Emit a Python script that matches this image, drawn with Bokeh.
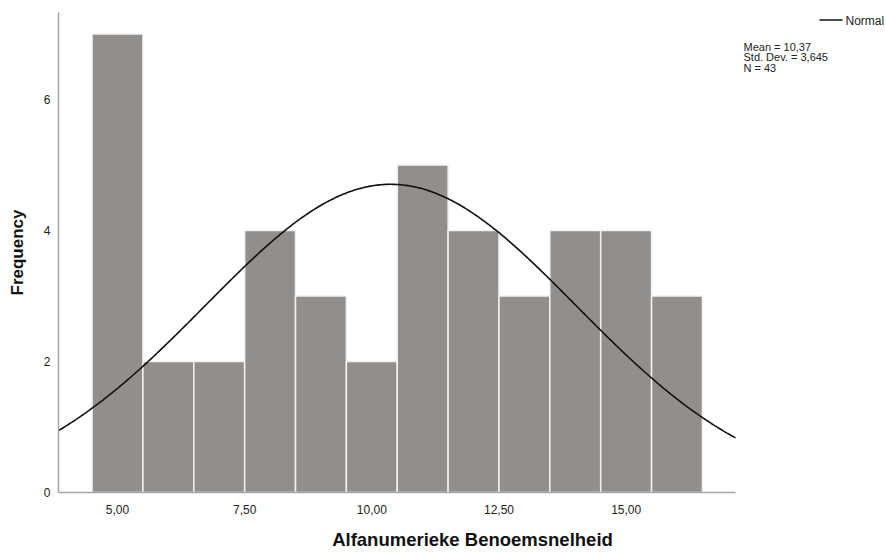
import numpy as np
from bokeh.plotting import figure
from bokeh.models import FixedTicker, Label, Arrow
from bokeh.embed import file_html
from bokeh.resources import INLINE

# Histogram of Alfanumerieke Benoemsnelheid (bin width 1)
bin_centers = [5, 6, 7, 8, 9, 10, 11, 12, 13, 14, 15, 16]
frequencies = [7, 2, 2, 4, 3, 2, 5, 4, 3, 4, 4, 3]
bin_width = 1.0

# Summary statistics shown next to the chart
mean = 10.37
std_dev = 3.645
n_obs = 43

x_ticks = [5.0, 7.5, 10.0, 12.5, 15.0]
x_tick_labels = ["5,00", "7,50", "10,00", "12,50", "15,00"]
y_ticks = [0, 2, 4, 6]

# visible axis extent (data units)
X0, X1 = 3.84, 17.15
Y0, Y1 = 0.0, 7.33

W, H = 886, 552
FL, FR, FT, FB = 58, 735, 12, 492   # axis box in pixels

# The frame runs to the right edge of the page so the legend and the
# statistics text can sit to the right of the axis box.
units_per_px = (X1 - X0) / (FR - FL)
X_FRAME_END = X0 + (W - FL) * units_per_px

FONT = "Liberation Sans"

p = figure(width=W, height=H, x_range=(X0, X_FRAME_END), y_range=(Y0, Y1),
           output_backend="svg", toolbar_location=None,
           min_border_left=FL, min_border_right=0,
           min_border_top=FT, min_border_bottom=H - FB)
p.outline_line_color = None
p.xgrid.visible = False
p.ygrid.visible = False
p.background_fill_color = "white"
p.border_fill_color = "white"

left = [c - bin_width / 2 for c in bin_centers]
right = [c + bin_width / 2 for c in bin_centers]
p.quad(left=left, right=right, bottom=0, top=frequencies,
       fill_color="#928e8c", line_color="#f2f2f2", line_width=1.5)

# Normal curve scaled to counts
xs = np.linspace(X0, X1, 400)
ys = n_obs * bin_width / (std_dev * np.sqrt(2 * np.pi)) * np.exp(-0.5 * ((xs - mean) / std_dev) ** 2)
p.line(xs, ys, line_color="#111111", line_width=1.6)

for ax in (p.xaxis, p.yaxis):
    ax.axis_line_color = "#a6a6a6"
    ax.axis_line_width = 1.5
    ax.major_tick_line_color = None
    ax.minor_tick_line_color = None
    ax.major_label_text_font = FONT
    ax.major_label_text_font_size = "12px"
    ax.major_label_text_color = "#222222"
    ax.axis_label_text_font = FONT
    ax.axis_label_text_font_style = "bold"
    ax.axis_label_text_color = "#111111"

p.xaxis.bounds = (X0, X1)
p.xaxis.ticker = FixedTicker(ticks=x_ticks)
p.xaxis.major_label_overrides = {t: s for t, s in zip(x_ticks, x_tick_labels)}
p.xaxis.major_label_standoff = 6
p.xaxis.axis_label = "Alfanumerieke Benoemsnelheid"
p.xaxis.axis_label_text_font_size = "18.5px"
p.xaxis.axis_label_standoff = 12

p.yaxis.ticker = FixedTicker(ticks=y_ticks)
p.yaxis.major_label_standoff = 2
p.yaxis.axis_label = "Frequency"
p.yaxis.axis_label_text_font_size = "17px"
p.yaxis.axis_label_standoff = 14


def dx(px):
    return X0 + (px - FL) * units_per_px


def dy(py):
    return Y1 - (py - FT) / (FB - FT) * (Y1 - Y0)


# Legend entry for the normal curve
p.add_layout(Arrow(x_start=dx(819), y_start=dy(19.5), x_end=dx(842), y_end=dy(19.5),
                   end=None, line_color="#111111", line_width=1.3))
p.add_layout(Label(x=dx(845), y=dy(20), text="Normal", text_font=FONT,
                   text_font_size="12px", text_baseline="middle", text_color="#222222"))

stats = ["Mean = " + f"{mean:.2f}".replace(".", ","),
         "Std. Dev. = " + f"{std_dev:.3f}".replace(".", ","),
         f"N = {n_obs}"]
for i, s in enumerate(stats):
    p.add_layout(Label(x=dx(743), y=dy(46 + i * 10.5), text=s, text_font=FONT,
                       text_font_size="11px", text_baseline="middle", text_color="#222222"))

open("out.html", "w").write(file_html(p, INLINE))
